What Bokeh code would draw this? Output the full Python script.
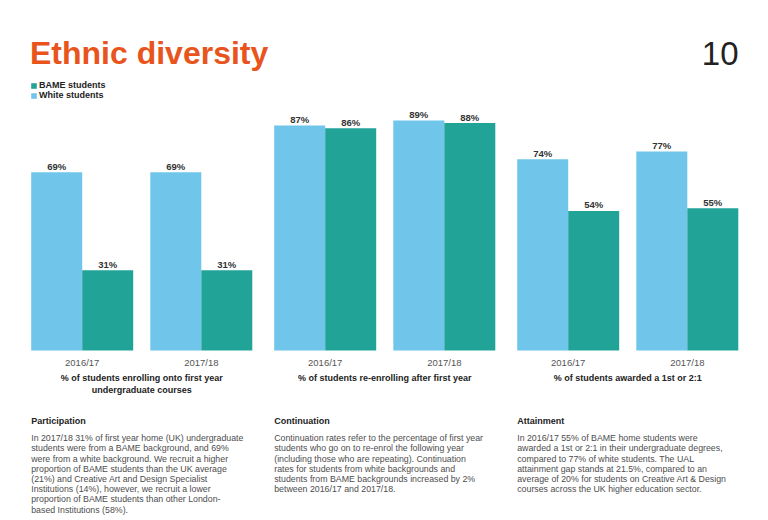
from bokeh.plotting import figure
from bokeh.models import Range1d, ColumnDataSource, Legend, LegendItem
from bokeh.core.properties import value
from bokeh.embed import file_html
from bokeh.resources import INLINE

# ---------------- data ----------------
title = "Ethnic diversity"
page_number = "10"
metric_labels = [
    "% of students enrolling onto first year\nundergraduate courses",
    "% of students re-enrolling after first year",
    "% of students awarded a 1st or 2:1",
]
years = ["2016/17", "2017/18"]
series_names = ["BAME students", "White students"]
white_pct = [69, 69, 87, 89, 74, 77]
bame_pct = [31, 31, 86, 88, 54, 55]
headings = ["Participation", "Continuation", "Attainment"]
paragraphs = [
    ["In 2017/18 31% of first year home (UK) undergraduate",
     "students were from a BAME background, and 69%",
     "were from a white background. We recruit a higher",
     "proportion of BAME students than the UK average",
     "(21%) and Creative Art and Design Specialist",
     "Institutions (14%), however, we recruit a lower",
     "proportion of BAME students than other London-",
     "based Institutions (58%)."],
    ["Continuation rates refer to the percentage of first year",
     "students who go on to re-enrol the following year",
     "(including those who are repeating). Continuation",
     "rates for students from white backgrounds and",
     "students from BAME backgrounds increased by 2%",
     "between 2016/17 and 2017/18."],
    ["In 2016/17 55% of BAME home students were",
     "awarded a 1st or 2:1 in their undergraduate degrees,",
     "compared to 77% of white students. The UAL",
     "attainment gap stands at 21.5%, compared to an",
     "average of 20% for students on Creative Art & Design",
     "courses across the UK higher education sector."],
]

# ---------------- layout / style ----------------
W, H = 768, 520
BASE = 350.0          # baseline of bars, px from top
PPP = 2.585           # px per percent
BAR_W = 51.0
PANEL0 = 30.7
PANEL_STEP = 243.0
GROUP_STEP = 119.1
FONT = "Liberation Sans"
C_WHITE = "#6FC6EA"
C_BAME = "#21A398"
C_TITLE = "#E8541C"

p = figure(width=W, height=H, output_backend="svg", toolbar_location=None,
           x_range=Range1d(0, W), y_range=Range1d(-(H - BASE) / PPP, BASE / PPP),
           x_axis_type=None, y_axis_type=None, min_border=0)
p.grid.visible = False
p.outline_line_color = None
p.background_fill_color = "white"
p.border_fill_color = "white"
p.extra_y_ranges = {"px": Range1d(H, 0)}

# bar positions
white_x, bame_x, group_centers = [], [], []
for i in range(len(white_pct)):
    panel, grp = divmod(i, 2)
    start = PANEL0 + panel * PANEL_STEP + grp * GROUP_STEP
    white_x.append(start + BAR_W / 2)
    bame_x.append(start + 1.5 * BAR_W)
    group_centers.append(start + BAR_W)

src_w = ColumnDataSource(dict(x=white_x, top=white_pct, lab=[f"{v}%" for v in white_pct]))
src_b = ColumnDataSource(dict(x=bame_x, top=bame_pct, lab=[f"{v}%" for v in bame_pct]))

r_w = p.vbar(x="x", top="top", bottom=0, width=BAR_W, source=src_w,
             fill_color=C_WHITE, line_color=None)
r_b = p.vbar(x="x", top="top", bottom=0, width=BAR_W, source=src_b,
             fill_color=C_BAME, line_color=None)

for src in (src_w, src_b):
    p.text(x="x", y="top", text="lab", source=src, text_align="center",
           text_baseline="alphabetic", y_offset=-6,
           text_font=value(FONT), text_font_size="9.5px", text_font_style="bold",
           text_color="#333333")

# year labels
year_text = [years[i % 2] for i in range(len(white_pct))]
p.text(x=group_centers, y=[361.7] * len(group_centers), text=year_text,
       y_range_name="px", text_align="center", text_baseline="middle",
       text_font=value(FONT), text_font_size="9.5px", text_color="#555555")

# metric labels
mx, my, mt = [], [], []
for k, lab in enumerate(metric_labels):
    cx = PANEL0 + k * PANEL_STEP + (GROUP_STEP + 2 * BAR_W) / 2
    for j, line in enumerate(lab.split("\n")):
        mx.append(cx)
        my.append(377.3 + 12 * j)
        mt.append(line)
p.text(x=mx, y=my, text=mt, y_range_name="px", text_align="center",
       text_baseline="middle", text_font=value(FONT), text_font_size="9px",
       text_font_style="bold", text_color="#222222")

# headings + paragraphs
hx, hy, ht, tx, ty, tt = [], [], [], [], [], []
for k, (h, para) in enumerate(zip(headings, paragraphs)):
    left = PANEL0 + k * PANEL_STEP
    hx.append(left); hy.append(420.0); ht.append(h)
    for j, line in enumerate(para):
        tx.append(left); ty.append(437.7 + 10.2 * j); tt.append(line)
p.text(x=hx, y=hy, text=ht, y_range_name="px", text_align="left",
       text_baseline="middle", text_font=value(FONT), text_font_size="9px",
       text_font_style="bold", text_color="#222222")
p.text(x=tx, y=ty, text=tt, y_range_name="px", text_align="left",
       text_baseline="middle", text_font=value(FONT), text_font_size="8.8px",
       text_color="#4d4d4d")

# title and page number
p.text(x=[29.5], y=[52.7], text=[title], y_range_name="px", text_align="left",
       text_baseline="alphabetic", text_font=value(FONT), text_font_size="32px",
       text_font_style="bold", text_color=C_TITLE)
p.text(x=[738.0], y=[53.3], text=[page_number], y_range_name="px", text_align="right",
       text_baseline="alphabetic", text_font=value(FONT), text_font_size="33px",
       text_color="#222222")

# legend
legend = Legend(items=[LegendItem(label=series_names[0], renderers=[r_b]),
                       LegendItem(label=series_names[1], renderers=[r_w])],
                location=(30.0, H - 100.3), orientation="vertical",
                glyph_width=7, glyph_height=7, label_standoff=2,
                label_height=10, label_width=20, spacing=0, padding=0, margin=0,
                border_line_color=None, background_fill_alpha=0,
                label_text_font=FONT, label_text_font_size="9px",
                label_text_font_style="bold", label_text_color="#222222")
p.add_layout(legend)

open("out.html", "w").write(file_html(p, INLINE))
